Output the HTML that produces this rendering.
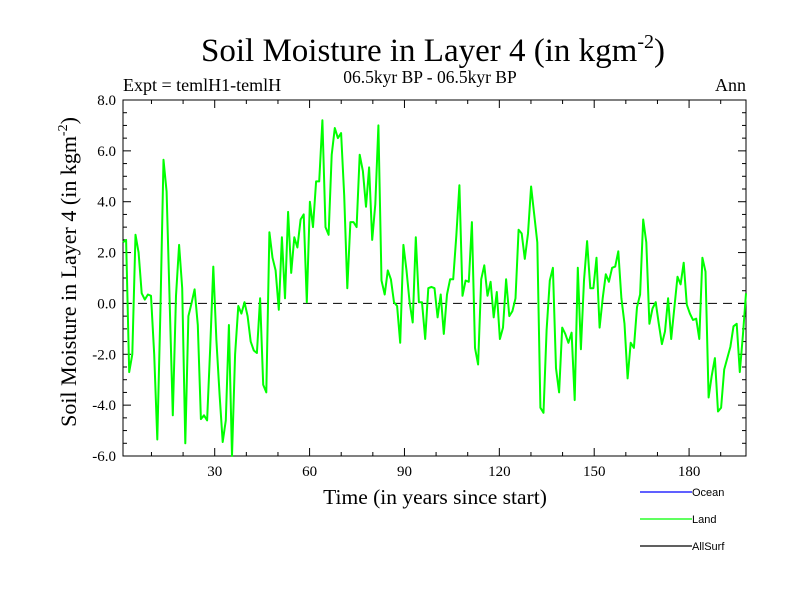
<!DOCTYPE html>
<html><head><meta charset="utf-8"><style>
body{margin:0;background:#fff}
svg{display:block}
text{font-family:"Liberation Serif",serif;fill:#000}
</style></head><body>
<svg id="chart" width="800" height="600" viewBox="0 0 800 600">
<text x="433" y="61" font-size="33" text-anchor="middle">Soil Moisture in Layer 4 (in kgm<tspan font-size="20" dy="-13">-2</tspan><tspan dy="13">)</tspan></text>
<text x="123" y="91" font-size="18">Expt = temlH1-temlH</text>
<text x="430" y="83" font-size="17.5" text-anchor="middle">06.5kyr BP - 06.5kyr BP</text>
<text x="746" y="91" font-size="18" text-anchor="end">Ann</text>
<text x="435" y="504" font-size="21.5" text-anchor="middle">Time (in years since start)</text>
<text transform="translate(76,272) rotate(-90)" font-size="22" text-anchor="middle">Soil Moisture in Layer 4 (in kgm<tspan font-size="14" dy="-9">-2</tspan><tspan dy="9">)</tspan></text>
<g id="axes"></g>
<g>
<line x1="640" y1="492" x2="692" y2="492" stroke="#0000ff" stroke-width="1.2"/>
<text x="692" y="496" font-size="11" style="font-family:'Liberation Sans',sans-serif">Ocean</text>
<line x1="640" y1="519" x2="692" y2="519" stroke="#00ff00" stroke-width="1.2"/>
<text x="692" y="523" font-size="11" style="font-family:'Liberation Sans',sans-serif">Land</text>
<line x1="640" y1="546" x2="692" y2="546" stroke="#000" stroke-width="1.2"/>
<text x="692" y="550" font-size="11" style="font-family:'Liberation Sans',sans-serif">AllSurf</text>
</g>
</svg>
<script>
const landValues=[2.4,2.5,-2.7,-2.0,2.7,2.0,0.4,0.15,0.35,0.3,-2.0,-5.35,-0.3,5.65,4.4,0.0,-4.4,0.3,2.3,0.6,-5.5,-0.5,0.0,0.55,-0.85,-4.55,-4.4,-4.6,-1.75,1.45,-1.45,-3.6,-5.45,-4.6,-0.85,-6.0,-2.0,-0.1,-0.4,0.05,-0.5,-1.5,-1.85,-1.95,0.2,-3.2,-3.5,2.8,1.8,1.3,-0.25,
2.6,0.2,3.6,1.2,2.6,2.2,3.3,3.5,0.05,4.0,3.0,4.8,4.8,7.2,3.0,2.7,5.85,6.9,6.5,6.7,4.25,0.6,3.2,3.2,3.0,5.85,5.2,3.8,5.35,2.5,3.9,7.0,0.9,0.35,1.3,0.95,0.05,-0.1,-1.55,2.3,1.3,0.05,-0.75,2.6,0.05,0.05,-1.4,0.6,0.65,
0.6,-0.55,0.35,-1.2,0.35,0.95,0.95,2.65,4.65,0.3,0.9,0.85,3.2,-1.75,-2.4,0.95,1.5,0.3,0.85,-0.55,0.45,-1.4,-0.95,0.95,-0.5,-0.3,0.2,2.9,2.75,1.75,2.75,4.6,3.5,2.4,-4.1,-4.3,-1.05,0.9,1.4,-2.55,-3.5,-0.95,-1.2,-1.55,-1.15,-3.8,1.4,-1.8,0.9,
2.45,0.6,0.6,1.8,-0.95,0.2,1.15,0.85,1.4,1.45,2.05,0.2,-0.8,-2.95,-1.55,-1.75,-0.15,0.35,3.3,2.4,-0.8,-0.2,0.05,-0.8,-1.6,-1.1,0.2,-1.4,-0.15,1.05,0.75,1.6,-0.05,-0.4,-0.65,-0.6,-1.4,1.8,1.25,-3.7,-2.85,-2.15,-4.25,-4.1,-2.6,-2.15,-1.7,-0.9,-0.8,-2.7,-1.25,0.4];
const xTickValues=[30,60,90,120,150,180];
const yTickValues=[-6,-4,-2,0,2,4,6,8];
const yTickLabels=["-6.0","-4.0","-2.0","0.0","2.0","4.0","6.0","8.0"];
const xStart=1, xEnd=198;

const L=123,R=746,T=100,B=456;
const xs=v=>L+(v-xStart)/(xEnd-xStart)*(R-L);
const ys=v=>B-(v+6)/14*(B-T);
const NS='http://www.w3.org/2000/svg';
const g=document.getElementById('axes');
function mk(tag,attrs){const e=document.createElementNS(NS,tag);for(const k in attrs)e.setAttribute(k,attrs[k]);g.appendChild(e);return e;}

const frame=mk('rect',{x:L,y:T,width:R-L,height:B-T,fill:'none',stroke:'#000','stroke-width':1});



const zl=mk('line',{x1:L,x2:R,y1:ys(0),y2:ys(0),stroke:'#000','stroke-width':1,'stroke-dasharray':'9,6'});



for(let v=-6;v<=8.001;v+=0.5){
  const maj=Math.abs(v-Math.round(v/2)*2)<1e-6;
  const len=maj?8:4;const y=ys(v);
  mk('line',{x1:L,x2:L+len,y1:y,y2:y,stroke:'#000'});
  mk('line',{x1:R,x2:R-len,y1:y,y2:y,stroke:'#000'});
}
for(let v=10;v<=xEnd;v+=10){
  const maj=v%30===0;const len=maj?8:4;const x=xs(v);
  mk('line',{x1:x,x2:x,y1:B,y2:B-len,stroke:'#000'});
  mk('line',{x1:x,x2:x,y1:T,y2:T+len,stroke:'#000'});
}
yTickValues.forEach((v,i)=>{
  const t=mk('text',{x:L-7,y:ys(v)+5,'font-size':15,'text-anchor':'end'});
  t.textContent=yTickLabels[i];
  
  
});
xTickValues.forEach(v=>{
  const t=mk('text',{x:xs(v),y:B+20,'font-size':15,'text-anchor':'middle'});
  t.textContent=String(v);
  
  
});
const n=landValues.length;
const pts=landValues.map((v,i)=>xs(xStart+i*(xEnd-xStart)/(n-1)).toFixed(1)+','+ys(v).toFixed(1)).join(' ');
const line=mk('polyline',{points:pts,fill:'none',stroke:'#00ff00','stroke-width':2,'stroke-linejoin':'round'});


</script>
</body></html>
